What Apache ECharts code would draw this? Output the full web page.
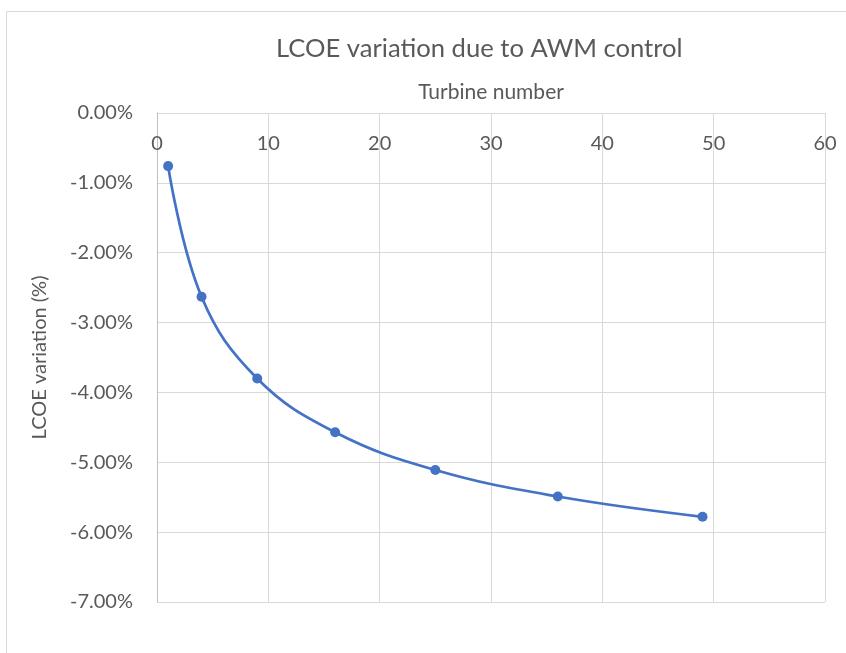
<!DOCTYPE html>
<html>
<head>
<meta charset="utf-8">
<script src="https://cdn.jsdelivr.net/npm/echarts@6/dist/echarts.min.js"></script>
<style>
  html, body { margin: 0; padding: 0; background: #fff; }
  #chart { width: 846px; height: 653px; }
</style>
</head>
<body>
<div id="chart"></div>
<script>
// Number of turbines in the farm
const turbineCounts = [1, 4, 9, 16, 25, 36, 49];
// LCOE change with AWM control, in percent
const lcoeVariation = [-0.76, -2.63, -3.80, -4.57, -5.11, -5.49, -5.78];

const FONT = 'Lato';
const TEXT = '#595959';

const chart = echarts.init(document.getElementById('chart'), null, { renderer: 'canvas' });
chart.setOption({
  backgroundColor: '#fff',
  animation: false,
  textStyle: { fontFamily: FONT },
  title: {
    text: 'LCOE variation due to AWM control',
    left: 271,
    top: 31,
    textStyle: { fontFamily: FONT, fontSize: 25.6, fontWeight: 'normal', color: TEXT }
  },
  graphic: [{
    type: 'rect',
    shape: { x: 6.5, y: 11.5, width: 860, height: 700 },
    style: { fill: 'none', stroke: '#d9d9d9', lineWidth: 1 },
    silent: true
  }],
  grid: { left: 157, right: 21, top: 113, bottom: 51 },
  xAxis: {
    type: 'value',
    position: 'top',
    min: 0, max: 60, interval: 10,
    name: 'Turbine number',
    nameLocation: 'middle',
    nameGap: 10,
    nameTextStyle: { fontFamily: FONT, fontSize: 21, color: TEXT },
    axisLine: { show: false },
    axisTick: { show: false },
    axisLabel: { inside: true, fontFamily: FONT, fontSize: 20, color: TEXT, margin: 21 },
    splitLine: { show: true, lineStyle: { color: '#d9d9d9', width: 1 } }
  },
  yAxis: {
    type: 'value',
    min: -7, max: 0, interval: 1,
    name: 'LCOE variation (%)',
    nameLocation: 'middle',
    nameGap: 107,
    nameRotate: 90,
    nameTextStyle: { fontFamily: FONT, fontSize: 20, color: TEXT },
    axisLine: { show: true, lineStyle: { color: '#bfbfbf', width: 1 } },
    axisTick: { show: false },
    axisLabel: {
      fontFamily: FONT, fontSize: 20, color: TEXT, margin: 24,
      formatter: v => v.toFixed(2) + '%'
    },
    splitLine: { show: true, lineStyle: { color: '#d9d9d9', width: 1 } }
  },
  series: [{
    type: 'line',
    data: turbineCounts.map((x, i) => [x, lcoeVariation[i]]),
    smooth: 0.4,
    symbol: 'circle',
    symbolSize: 10,
    lineStyle: { color: '#4472C4', width: 2.75 },
    itemStyle: { color: '#4472C4' }
  }]
});
</script>
</body>
</html>
